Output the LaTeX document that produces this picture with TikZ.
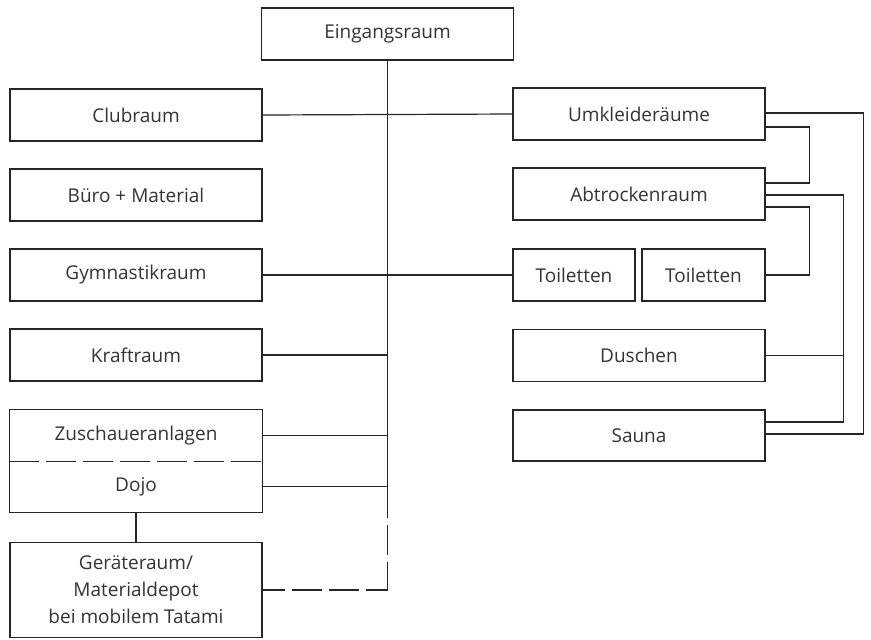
\documentclass[tikz,border=0pt]{standalone}
\usepackage{fontspec}
\setmainfont{Open Sans}
\begin{document}
\begin{tikzpicture}[x=0.5pt,y=-0.5pt,line width=0.6pt,draw=black!85,
  room/.style={draw,minimum width=126pt,minimum height=26pt,inner sep=0pt,align=center,text=black!80,font=\fontsize{9.5}{13.5}\selectfont},
  half/.style={room,draw=none,minimum height=25.5pt},
  dashline/.style={dash pattern=on 15pt off 3.5pt}]
\useasboundingbox (0,0) rectangle (871,639);
\node[room] (eing) at (387.5,34) {Eingangsraum};
\node[room] (club) at (136,115) {Clubraum};
\node[room] (buero) at (136,195) {Büro + Material};
\node[room] (gym) at (136,275) {Gymnastikraum};
\node[room] (kraft) at (136,355) {Kraftraum};
\node[half] (zus) at (136,435.5) {Zuschaueranlagen};
\node[half] (dojo) at (136,486.5) {Dojo};
\node[room,minimum height=47.5pt] (geraet) at (136,590) {Geräteraum/\\Materialdepot\\bei mobilem Tatami};
\node[room] (umk) at (639,114) {Umkleideräume};
\node[room] (abt) at (639,194) {Abtrockenraum};
\node[room,minimum width=61pt] (toi1) at (574,275) {Toiletten};
\node[room,minimum width=61.5pt] (toi2) at (703.5,275) {Toiletten};
\node[room] (dusch) at (639,355.5) {Duschen};
\node[room,minimum height=25.5pt] (sauna) at (639,435.5) {Sauna};
\draw (zus.north west) rectangle (dojo.south east);
\draw[dashline] (zus.south west) -- (zus.south east);
\coordinate (trunkend) at (387.5,518);
\coordinate (corner) at (geraet.east -| trunkend);
\draw (eing.south) -- (trunkend);
\draw[dashline,dash phase=15pt] (trunkend) -- (corner);
\draw[dashline,dash phase=4pt] (corner) -- (geraet.east);
\draw (club.east) -- (umk.west);
\draw (gym.east) -- (toi1.west);
\draw (kraft.east) -- (kraft.east -| eing.south);
\draw (zus.east) -- (zus.east -| eing.south);
\draw (dojo.east) -- (dojo.east -| eing.south);
\draw (dojo.south) -- (geraet.north);
\draw ([yshift=0.5pt]umk.east) -- ++(98,0) |- ([yshift=0.75pt]sauna.east);
\draw ([yshift=-6.5pt]umk.east) -- ++(44,0) |- ([yshift=5.5pt]abt.east);
\draw ([yshift=-0.5pt]abt.east) -- ++(78,0) coordinate (bus) |- ([yshift=6.75pt]sauna.east);
\draw ([yshift=-6.5pt]abt.east) -- ++(44,0) |- (toi2.east);
\draw (dusch.east) -- (dusch.east -| bus);
\end{tikzpicture}
\end{document}
